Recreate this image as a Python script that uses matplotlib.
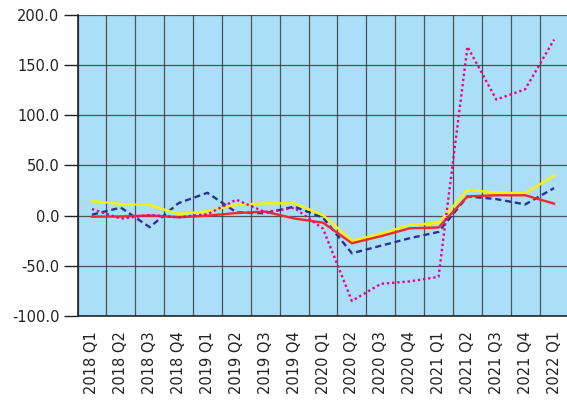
import matplotlib
matplotlib.use("Agg")
import matplotlib.pyplot as plt
import numpy as np

quarters = ["2018 Q1", "2018 Q2", "2018 Q3", "2018 Q4",
            "2019 Q1", "2019 Q2", "2019 Q3", "2019 Q4",
            "2020 Q1", "2020 Q2", "2020 Q3", "2020 Q4",
            "2021 Q1", "2021 Q2", "2021 Q3", "2021 Q4",
            "2022 Q1"]

# quarterly growth rates, four series
yellow = [14.6, 11.6, 10.6, 1.7, 4.3, 11.0, 12.3, 12.3, 0.5, -25.0, -18.0, -9.2, -7.2, 25.5, 23.2, 22.2, 40.0]
red = [-1.0, -0.8, 0.2, -1.6, 0.0, 2.6, 4.0, -2.8, -7.0, -27.5, -20.5, -12.6, -11.8, 19.2, 20.3, 20.3, 12.0]
blue = [1.0, 8.0, -11.5, 12.5, 22.8, 3.3, 2.4, 9.0, -2.0, -37.5, -30.0, -22.5, -16.2, 19.2, 16.5, 11.2, 27.5]
magenta = [6.6, -3.0, 0.6, -1.6, 1.5, 15.9, 3.5, 7.8, -13.0, -85.0, -68.0, -65.5, -61.0, 168.5, 115.7, 126.0, 175.5]

x = np.arange(len(quarters))

fig = plt.figure(figsize=(5.67, 4.01), dpi=100)
ax = fig.add_axes([0.1367, 0.212, 0.866, 0.7506])
ax.set_facecolor("#ABDFF8")

ax.plot(x, blue, color="#2E3192", lw=1.7, ls=(0, (2.6, 1.6)), zorder=3)
ax.plot(x, yellow, color="#FFF200", lw=1.7, zorder=4)
ax.plot(x, red, color="#EE2A2A", lw=1.7, zorder=5)
ax.plot(x, magenta, color="#EC008C", lw=1.7, ls=(0, (1, 1.2)), zorder=6)

ax.set_xlim(-0.5, len(quarters) - 0.5)
ax.set_ylim(-100, 200)
ax.set_yticks(np.arange(-100, 201, 50))
ax.set_yticklabels([f"{v:.1f}" for v in np.arange(-100, 201, 50)])
ax.set_xticks(x)
ax.set_xticklabels(quarters, rotation=90, ha="center", va="top")
ax.set_xticks(np.arange(-0.5, len(quarters), 1), minor=True)

ax.grid(False)
ax.grid(which="minor", axis="x", color="#3a3a3a", lw=0.9, alpha=0.85)
ax.grid(which="major", axis="y", color="#3a3a3a", lw=0.9, alpha=0.85)
ax.set_axisbelow(True)

ax.tick_params(axis="x", which="both", length=0, pad=11, labelsize=10.5, colors="#222222")
ax.tick_params(axis="y", length=10, width=1, pad=3, labelsize=10.5, colors="#222222")

for side in ["top", "right"]:
    ax.spines[side].set_visible(False)
ax.spines["left"].set_color("#222222")
ax.spines["bottom"].set_color("#222222")
ax.spines["left"].set_linewidth(1.2)
ax.spines["bottom"].set_linewidth(1.2)

fig.savefig("out.png", dpi=100)
